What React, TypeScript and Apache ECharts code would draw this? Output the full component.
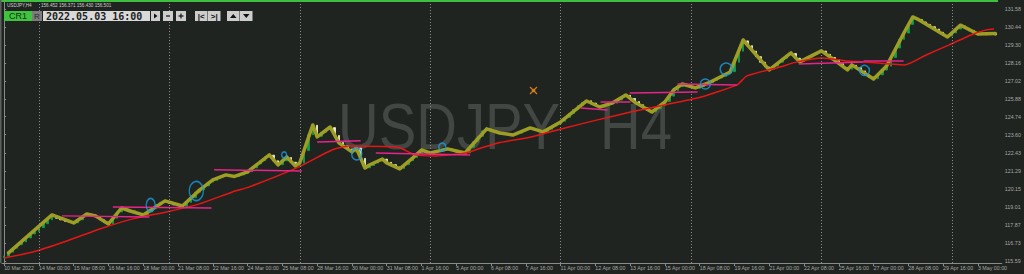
import React, { useEffect, useRef } from "react";
import * as echarts from "echarts";

// ---------- DATA ----------
const xTickLabels = [
  "10 Mar 2022", "14 Mar 00:00", "15 Mar 08:00", "16 Mar 16:00", "18 Mar 00:00",
  "21 Mar 08:00", "22 Mar 16:00", "24 Mar 00:00", "25 Mar 08:00", "28 Mar 16:00",
  "30 Mar 00:00", "31 Mar 08:00", "1 Apr 16:00", "5 Apr 00:00", "6 Apr 08:00",
  "7 Apr 16:00", "11 Apr 00:00", "12 Apr 08:00", "13 Apr 16:00", "15 Apr 00:00",
  "18 Apr 08:00", "19 Apr 16:00", "21 Apr 00:00", "22 Apr 08:00", "25 Apr 16:00",
  "27 Apr 00:00", "28 Apr 08:00", "29 Apr 16:00", "3 May 00:00",
];
const barsPerLabel = 8;
const slotCount = 230;

const yTickValues = [
  115.59, 116.73, 117.87, 119.01, 120.15, 121.29, 122.43, 123.6,
  124.74, 125.88, 127.02, 128.16, 129.3, 130.44, 131.58,
];

const firstOpen = 115.8;
const closes = [
  115.90, 116.15, 116.40, 116.62, 116.80, 117.05, 117.30, 117.45, 117.70, 117.95,
  118.20, 118.45, 118.30, 118.20, 118.10, 118.05, 118.00, 118.20, 118.45, 118.55,
  118.50, 118.40, 118.20, 118.05, 117.95, 118.30, 118.70, 118.90, 118.80, 118.75,
  118.65, 118.55, 118.50, 118.70, 118.95, 119.15, 119.30, 119.35, 119.25, 119.15,
  119.10, 119.05, 119.30, 119.60, 119.95, 120.10, 120.35, 120.60, 120.70, 120.90,
  121.00, 121.05, 120.98, 120.95, 121.05, 121.15, 121.25, 121.50, 121.75, 121.95,
  122.20, 122.30, 121.95, 121.70, 121.95, 122.15, 121.85, 121.65, 121.80, 122.60,
  123.60, 124.20, 123.50, 123.75, 123.95, 124.05, 123.55, 123.10, 122.90, 122.70,
  122.50, 122.75, 122.10, 121.50, 121.65, 121.80, 121.95, 122.05, 121.85, 121.70,
  121.55, 121.45, 121.70, 121.95, 122.15, 122.40, 122.60, 122.50, 122.45, 122.55,
  122.60, 122.65, 122.70, 122.60, 122.50, 122.45, 122.45, 122.80, 123.15, 123.50,
  123.85, 123.95, 123.85, 123.75, 123.70, 123.65, 123.60, 123.60, 123.70, 123.85,
  123.95, 124.00, 123.90, 123.80, 123.80, 123.95, 124.15, 124.30, 124.45, 124.70,
  124.95, 125.20, 125.45, 125.65, 125.75, 125.60, 125.45, 125.35, 125.45, 125.55,
  125.60, 125.80, 126.00, 126.10, 125.90, 125.70, 125.50, 125.30, 125.15, 125.05,
  125.25, 125.45, 125.70, 126.05, 126.40, 126.65, 126.80, 126.70, 126.60, 126.55,
  126.65, 126.80, 126.90, 127.05, 127.20, 127.30, 127.45, 127.60, 128.20, 128.90,
  129.55, 129.25, 128.90, 128.55, 128.20, 127.90, 127.75, 127.95, 128.20, 128.45,
  128.65, 128.75, 128.45, 128.25, 128.40, 128.55, 128.70, 128.85, 128.90, 128.70,
  128.50, 128.35, 128.10, 127.85, 127.75, 128.00, 127.85, 127.65, 127.40, 127.25,
  127.15, 127.40, 127.70, 127.95, 128.50, 129.10, 129.65, 130.05, 130.60, 131.00,
  130.90, 130.75, 130.60, 130.45, 130.30, 130.10, 129.90, 129.85, 130.05, 130.30,
  130.50, 130.35, 130.20, 130.05, 129.95, 130.00, 129.95, 130.05, 129.93,
];
const lastPrice = 129.93;

// zigzag (olive) vertices: [bar index, price]
const zigzag: [number, number][] = [
  [1, 116.10], [11, 118.51], [16, 118.00], [19, 118.57], [21, 118.45], [24, 117.94],
  [27, 118.95], [29, 118.76], [32, 118.51], [37, 119.40], [41, 119.08], [45, 120.10],
  [48, 120.73], [51, 121.05], [53, 120.95], [56, 121.24], [61, 122.32], [63, 121.68],
  [65, 122.19], [67, 121.62], [68, 121.81], [71, 124.22], [72, 123.46], [75, 124.09],
  [77, 123.08], [80, 122.51], [81, 122.76], [83, 121.49], [84, 121.68], [87, 122.06],
  [88, 121.81], [91, 121.43], [94, 122.13], [96, 122.63], [98, 122.44], [102, 122.70],
  [106, 122.44], [111, 123.97], [114, 123.71], [117, 123.58], [121, 124.03], [124, 123.78],
  [128, 124.41], [134, 125.74], [137, 125.36], [140, 125.62], [143, 126.12], [145, 125.68],
  [149, 125.04], [152, 125.68], [154, 126.44], [156, 126.82], [159, 126.57], [162, 126.88],
  [167, 127.58], [170, 129.61], [176, 127.71], [181, 128.79], [183, 128.22], [188, 128.92],
  [191, 128.34], [194, 127.71], [195, 128.03], [200, 127.14], [203, 127.96], [207, 130.06],
  [209, 131.07], [210, 130.95], [217, 129.80], [220, 130.55], [224, 129.99], [228, 130.02],
];

// moving average (red) read points: [bar index, price]
const movingAverage: [number, number][] = [
  [0, 115.78], [6.6, 116.16], [14.4, 116.86], [22, 117.62], [29.6, 118.26], [37.3, 118.70],
  [44.9, 119.21], [52.5, 119.97], [56.4, 120.29], [67.8, 121.56], [75.4, 122.63], [79.3, 122.89],
  [86.8, 122.85], [90.7, 122.80], [94.6, 122.32], [99.2, 122.25], [106.1, 122.44], [109.7, 122.76],
  [113.6, 123.08], [121.2, 123.46], [129, 124.03], [136.5, 124.54], [144.1, 125.04], [151.9, 125.49],
  [159.5, 125.93], [163.3, 126.25], [168.6, 126.76], [170.9, 127.33], [178.5, 127.90], [182.4, 128.22],
  [188.1, 128.47], [193.8, 128.28], [197.7, 128.22], [207.1, 128.03], [212.1, 128.66], [217.4, 129.30],
  [222.4, 129.93], [225.9, 130.25], [227.7, 130.31],
];

// magenta trend segments: [start index, start price, end index, end price]
const trendSegments: [number, number, number, number][] = [
  [13.3, 118.45, 33.4, 118.38],
  [25, 119.02, 47.7, 118.95],
  [48.3, 121.37, 68.5, 121.30],
  [72, 123.14, 82, 123.21],
  [85.5, 122.44, 107.2, 122.32],
  [132.6, 125.30, 138.8, 125.17],
  [137.2, 125.68, 144.1, 125.68],
  [143.9, 126.25, 159.5, 126.31],
  [154.9, 126.82, 168.6, 126.76],
  [182.8, 128.09, 197.7, 128.22],
  [197.7, 128.28, 206.9, 128.28],
];

// blue hand-drawn circles: [index, price, width px, height px]
const circleMarks: [number, number, number, number][] = [
  [33.7, 119.14, 9, 13],
  [44.2, 120.03, 14, 19],
  [64.4, 122.32, 5, 6],
  [81.1, 122.38, 10, 12],
  [100.8, 122.82, 7, 8],
  [161.3, 126.82, 10, 10],
  [166.1, 127.77, 12, 12],
  [197.9, 127.68, 10, 10],
];

const weekSeparators = [8, 38, 68, 98, 128, 158, 188, 218];

// ---------- COMPONENT ----------
export default function App() {
  const ref = useRef<HTMLDivElement>(null);

  useEffect(() => {
    if (!ref.current) return;
    const chart = echarts.init(ref.current, undefined, { renderer: "svg" });

    const candles = closes.map((c, i) => {
      const o = i === 0 ? firstOpen : closes[i - 1];
      return [o, c, Math.min(o, c), Math.max(o, c)];
    });
    const slots = Array.from({ length: slotCount }, (_, i) => String(i));
    const isLabelIdx = (i: number) => i % barsPerLabel === 0 && i / barsPerLabel < xTickLabels.length;

    const axisGray = "#8a8a8a";
    const labelGray = "#a8a8a8";
    const smallFont = "Liberation Sans";
    const btn = "#cdcdcd";
    const wm = "#434744";

    const option: any = {
      animation: false,
      backgroundColor: "#1f2420",
      grid: { left: 2, right: 18, top: 2, bottom: 11, containLabel: false },
      xAxis: [
        {
          type: "category",
          data: slots,
          boundaryGap: true,
          axisLine: { show: true, lineStyle: { color: axisGray, width: 1 } },
          axisTick: {
            show: true,
            alignWithLabel: true,
            interval: (i: number) => isLabelIdx(i),
            length: 3,
            lineStyle: { color: axisGray },
          },
          axisLabel: {
            show: true,
            interval: (i: number) => isLabelIdx(i),
            formatter: (v: string) => xTickLabels[Number(v) / barsPerLabel] ?? "",
            align: "left",
            color: labelGray,
            fontSize: 5.3,
            fontFamily: smallFont,
            margin: 2,
          },
          splitLine: { show: false },
        },
        { type: "value", min: -0.5, max: slotCount - 0.5, show: false },
      ],
      yAxis: {
        type: "value",
        position: "right",
        min: 115.46,
        max: 132.02,
        axisLine: { show: true, lineStyle: { color: axisGray } },
        axisTick: { show: true, length: 2, customValues: yTickValues, lineStyle: { color: axisGray } },
        axisLabel: {
          show: true,
          customValues: yTickValues,
          formatter: (v: number) => v.toFixed(2),
          color: labelGray,
          fontSize: 5.3,
          fontFamily: smallFont,
          margin: 3,
          showMinLabel: true,
          showMaxLabel: true,
        },
        splitLine: { show: false },
      },
      graphic: {
        elements: [
          // watermark
          {
            type: "text", x: 338, y: 95, z: 0, silent: true, scaleX: 0.88,
            style: { text: "USDJPY", fontSize: 64, lineHeight: 64, fontFamily: "Liberation Sans", fill: wm, align: "left", textAlign: "left", verticalAlign: "top", textVerticalAlign: "top" },
          },
          {
            type: "text", x: 600, y: 95, z: 0, silent: true, scaleX: 0.88,
            style: { text: "H4", fontSize: 64, lineHeight: 64, fontFamily: "Liberation Sans", fill: wm, align: "left", textAlign: "left", verticalAlign: "top", textVerticalAlign: "top" },
          },
          // top green bar & left border
          { type: "rect", z: 100, silent: true, shape: { x: 0, y: 0, width: 998, height: 2 }, style: { fill: "#3fbf3f" } },
          { type: "rect", z: 100, silent: true, shape: { x: 0, y: 0, width: 1.5, height: 263 }, style: { fill: "#5c605d" } },
          // header
          {
            type: "text", x: 7, y: 5, z: 100, silent: true,
            style: { text: "USDJPY,H4", fontSize: 4.6, fontFamily: smallFont, fill: "#cfcfcf", verticalAlign: "middle", textVerticalAlign: "middle" },
          },
          {
            type: "text", x: 41, y: 5, z: 100, silent: true,
            style: { text: "156.452 156.371 156.430 156.501", fontSize: 4.6, fontFamily: smallFont, fill: "#cfcfcf", verticalAlign: "middle", textVerticalAlign: "middle" },
          },
          // CR1
          { type: "rect", z: 100, silent: true, shape: { x: 4, y: 11, width: 28, height: 10 }, style: { fill: "#3fc43f" } },
          {
            type: "text", x: 18, y: 16.3, z: 101, silent: true,
            style: { text: "CR1", fontSize: 9, fontFamily: smallFont, fill: "#163016", align: "center", textAlign: "center", verticalAlign: "middle", textVerticalAlign: "middle" },
          },
          // R
          { type: "rect", z: 100, silent: true, shape: { x: 32, y: 11, width: 10, height: 10 }, style: { fill: "#7d7d7d" } },
          {
            type: "text", x: 37, y: 16.3, z: 101, silent: true,
            style: { text: "R", fontSize: 8, fontFamily: smallFont, fill: "#262626", align: "center", textAlign: "center", verticalAlign: "middle", textVerticalAlign: "middle" },
          },
          // date box
          { type: "rect", z: 100, silent: true, shape: { x: 43, y: 11, width: 107, height: 10 }, style: { fill: "#d9d9d9" } },
          {
            type: "text", x: 46, y: 16.3, z: 101, silent: true,
            style: { text: "2022.05.03 16:00", fontSize: 10, fontWeight: "bold", fontFamily: "DejaVu Sans Mono", fill: "#1e1e1e", verticalAlign: "middle", textVerticalAlign: "middle" },
          },
          // play button
          { type: "rect", z: 100, silent: true, shape: { x: 151, y: 11, width: 9, height: 10 }, style: { fill: btn } },
          { type: "polygon", z: 101, silent: true, shape: { points: [[154, 13.5], [154, 18.5], [157.5, 16]] }, style: { fill: "#111" } },
          // minus
          { type: "rect", z: 100, silent: true, shape: { x: 163, y: 11, width: 10, height: 10 }, style: { fill: btn } },
          { type: "line", z: 101, silent: true, shape: { x1: 166, y1: 16, x2: 170, y2: 16 }, style: { stroke: "#111", lineWidth: 1.2 } },
          // plus
          { type: "rect", z: 100, silent: true, shape: { x: 176, y: 11, width: 10, height: 10 }, style: { fill: btn } },
          { type: "line", z: 101, silent: true, shape: { x1: 178.5, y1: 16, x2: 183.5, y2: 16 }, style: { stroke: "#111", lineWidth: 1.2 } },
          { type: "line", z: 101, silent: true, shape: { x1: 181, y1: 13.5, x2: 181, y2: 18.5 }, style: { stroke: "#111", lineWidth: 1.2 } },
          // |< >|
          { type: "rect", z: 100, silent: true, shape: { x: 195, y: 11, width: 12.5, height: 10 }, style: { fill: btn } },
          { type: "rect", z: 100, silent: true, shape: { x: 208, y: 11, width: 12.5, height: 10 }, style: { fill: btn } },
          {
            type: "text", x: 201.2, y: 16.3, z: 101, silent: true,
            style: { text: "|<", fontSize: 8, fontWeight: "bold", fontFamily: smallFont, fill: "#111", align: "center", textAlign: "center", verticalAlign: "middle", textVerticalAlign: "middle" },
          },
          {
            type: "text", x: 214.2, y: 16.3, z: 101, silent: true,
            style: { text: ">|", fontSize: 8, fontWeight: "bold", fontFamily: smallFont, fill: "#111", align: "center", textAlign: "center", verticalAlign: "middle", textVerticalAlign: "middle" },
          },
          // up / down
          { type: "rect", z: 100, silent: true, shape: { x: 227, y: 11, width: 12.5, height: 10 }, style: { fill: btn } },
          { type: "rect", z: 100, silent: true, shape: { x: 240, y: 11, width: 12.5, height: 10 }, style: { fill: btn } },
          { type: "polygon", z: 101, silent: true, shape: { points: [[230, 18], [236.5, 18], [233.25, 14]] }, style: { fill: "#111" } },
          { type: "polygon", z: 101, silent: true, shape: { points: [[243, 14], [249.5, 14], [246.25, 18]] }, style: { fill: "#111" } },
          // orange object icon
          { type: "line", z: 50, silent: true, shape: { x1: 530, y1: 87, x2: 537, y2: 94 }, style: { stroke: "#d27a1c", lineWidth: 1.3 } },
          { type: "line", z: 50, silent: true, shape: { x1: 537, y1: 87, x2: 530, y2: 94 }, style: { stroke: "#d27a1c", lineWidth: 1.3 } },
          { type: "circle", z: 50, silent: true, shape: { cx: 533.5, cy: 90.5, r: 1.8 }, style: { fill: "#d27a1c" } },
        ],
      },
      series: [
        {
          name: "separators",
          type: "line",
          xAxisIndex: 1,
          data: [],
          z: 1,
          silent: true,
          markLine: {
            silent: true,
            symbol: "none",
            label: { show: false },
            lineStyle: { color: "#8c8c8c", type: [1, 2], width: 1 },
            data: weekSeparators.map((i) => ({ xAxis: i })),
          },
        },
        {
          name: "USDJPY",
          type: "candlestick",
          xAxisIndex: 0,
          data: candles,
          barWidth: 2,
          z: 2,
          itemStyle: {
            color: "#12a052",
            color0: "#f2f2d4",
            borderColor: "#12a052",
            borderColor0: "#f2f2d4",
            borderWidth: 0.8,
          },
          markLine: {
            silent: true,
            symbol: "none",
            lineStyle: { opacity: 0 },
            label: {
              show: true,
              position: "end",
              formatter: lastPrice.toFixed(2),
              backgroundColor: "#000",
              color: "#3c3c3c",
              fontSize: 5.3,
              fontFamily: smallFont,
              padding: [1, 4, 1, 2],
              distance: 1,
            },
            data: [{ yAxis: lastPrice }],
          },
        },
        {
          name: "zigzag",
          type: "line",
          xAxisIndex: 1,
          data: zigzag,
          showSymbol: false,
          z: 3,
          lineStyle: { color: "#9e9e24", width: 3.5, join: "round", cap: "round" },
        },
        {
          name: "ma",
          type: "line",
          xAxisIndex: 1,
          data: movingAverage,
          showSymbol: false,
          smooth: 0.2,
          z: 4,
          lineStyle: { color: "#e41616", width: 1.5 },
        },
        {
          name: "trend",
          type: "lines",
          coordinateSystem: "cartesian2d",
          xAxisIndex: 1,
          yAxisIndex: 0,
          z: 5,
          lineStyle: { color: "#e6248a", width: 1.5, opacity: 1 },
          data: trendSegments.map(([a, p, b, q]) => ({ coords: [[a, p], [b, q]] })),
        },
        {
          name: "marks",
          type: "scatter",
          xAxisIndex: 1,
          z: 6,
          symbol: "circle",
          itemStyle: { color: "rgba(0,0,0,0)", borderColor: "#1c9be0", borderWidth: 1.5 },
          data: circleMarks.map(([i, p, w, h]) => ({ value: [i, p], symbolSize: [w, h] })),
        },
      ],
    };

    chart.setOption(option);
    return () => chart.dispose();
  }, []);

  return (
    <div
      ref={ref}
      style={{ position: "fixed", left: 0, top: 0, width: 1024, height: 274 }}
    />
  );
}
